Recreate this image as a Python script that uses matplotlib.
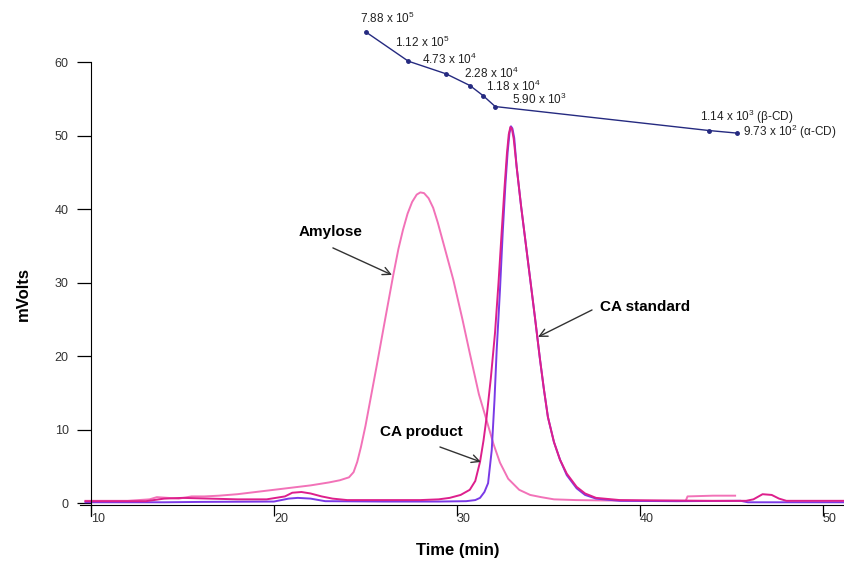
import matplotlib
matplotlib.use('Agg')
import matplotlib.pyplot as plt

plt.rcParams['font.family'] = ['Liberation Sans', 'DejaVu Sans']
plt.rcParams['mathtext.fontset'] = 'custom'
plt.rcParams['mathtext.rm'] = 'Liberation Sans'

# amylose trace (time in min, signal in mV)
amy_t = [9.7, 12.0, 13.2, 13.6, 14.2, 14.8, 15.5, 16.2, 17.0, 18.0, 19.0, 20.0, 21.0, 22.0, 23.0,
         23.6, 24.1, 24.35, 24.55, 24.75, 25.0, 25.3, 25.6, 26.0, 26.5, 26.8, 27.05, 27.3,
         27.55, 27.8, 28.0, 28.2, 28.45, 28.7, 28.95, 29.3, 29.8, 30.3, 30.7, 31.2, 31.65,
         32.0, 32.35, 32.8, 33.4, 34.0, 34.6, 35.3, 36.5, 38.0, 40.0, 42.5, 42.6, 44.0, 45.2]
amy_v = [0.3, 0.3, 0.5, 0.8, 0.7, 0.6, 0.9, 0.9, 1.0, 1.2, 1.5, 1.8, 2.1, 2.4, 2.8,
         3.1, 3.5, 4.2, 5.6, 7.6, 10.5, 14.5, 18.5, 24.0, 30.8, 34.6, 37.2, 39.4,
         41.0, 42.0, 42.3, 42.2, 41.5, 40.2, 38.2, 35.0, 30.4, 25.0, 20.4, 14.8, 11.0,
         8.0, 5.5, 3.3, 1.8, 1.1, 0.8, 0.5, 0.4, 0.35, 0.3, 0.3, 0.9, 1.0, 1.0]

# CA product trace
prod_t = [9.7, 13.0, 14.0, 15.0, 16.5, 18.0, 19.6, 20.6, 21.0, 21.5, 22.0, 22.6, 23.2, 24.0,
          26.0, 28.0, 29.0, 29.6, 30.2, 30.7, 31.0, 31.26, 31.45, 31.62, 31.85, 32.08, 32.27,
          32.44, 32.6, 32.73, 32.83, 32.92, 33.0, 33.1, 33.26, 33.5, 33.8, 34.05, 34.26, 34.54,
          34.75, 34.97, 35.3, 35.63, 36.0, 36.54, 37.0, 37.6, 38.9, 41.0, 44.0, 45.8, 46.2,
          46.7, 47.2, 47.6, 48.0, 51.2]
prod_v = [0.25, 0.25, 0.6, 0.7, 0.6, 0.5, 0.5, 0.9, 1.4, 1.5, 1.3, 0.9, 0.6, 0.4,
          0.4, 0.4, 0.5, 0.7, 1.1, 1.8, 3.0, 5.6, 8.5, 11.7, 17.0, 23.2, 30.0,
          36.8, 43.0, 47.6, 50.2, 51.2, 51.0, 49.6, 45.8, 40.5, 34.5, 29.5, 25.3, 19.5,
          15.5, 11.7, 8.3, 5.9, 4.0, 2.2, 1.3, 0.7, 0.4, 0.35, 0.3, 0.3, 0.5,
          1.2, 1.1, 0.6, 0.3, 0.3]

# CA standard trace
std_t = [9.7, 14.0, 16.0, 20.0, 20.8, 21.3, 22.0, 22.8, 26.0, 29.0, 30.5, 31.0, 31.26, 31.5,
         31.7, 31.9, 32.05, 32.17, 32.35, 32.5, 32.65, 32.77, 32.87, 32.95, 33.03, 33.13,
         33.26, 33.5, 33.8, 34.05, 34.26, 34.54, 34.75, 34.97, 35.3, 35.63, 36.0, 36.54, 37.0,
         37.6, 38.9, 42.0, 45.5, 45.9, 51.2]
std_v = [0.1, 0.1, 0.15, 0.2, 0.6, 0.7, 0.6, 0.25, 0.2, 0.2, 0.25, 0.4, 0.7, 1.5,
         2.7, 7.2, 14.0, 20.8, 29.0, 36.8, 43.5, 47.8, 50.4, 51.3, 51.0, 49.7,
         45.8, 40.5, 34.5, 29.5, 25.3, 19.5, 15.5, 11.7, 8.3, 5.9, 3.8, 2.0, 1.1,
         0.6, 0.3, 0.25, 0.3, 0.1, 0.1]

# molecular weight calibration curve, drawn on the same axes
cal_t = [25.03, 27.34, 29.40, 30.71, 31.44, 32.09, 43.79, 45.32]
cal_v = [64.13, 60.17, 58.45, 56.85, 55.45, 53.99, 50.72, 50.37]
cal_labels = [r'7.88 x 10$^{\mathregular{5}}$', r'1.12 x 10$^{\mathregular{5}}$',
              r'4.73 x 10$^{\mathregular{4}}$', r'2.28 x 10$^{\mathregular{4}}$',
              r'1.18 x 10$^{\mathregular{4}}$', r'5.90 x 10$^{\mathregular{3}}$',
              r'1.14 x 10$^{\mathregular{3}}$ (β-CD)', r'9.73 x 10$^{\mathregular{2}}$ (α-CD)']
cal_offsets = [(-6, 14), (-13, 19), (-24, 14), (-6, 12), (3, 9), (17, 7), (-9, 14), (6, 1)]

fig = plt.figure(figsize=(8.44, 5.61), dpi=100)
ax = fig.add_axes([80 / 844, 56 / 561, 764 / 844, 505 / 561])

ax.plot(amy_t, amy_v, color='#f272b8', lw=1.4)
ax.plot(std_t, std_v, color='#7a3ae6', lw=1.4)
ax.plot(prod_t, prod_v, color='#dd1f8c', lw=1.4)

ax.plot(cal_t, cal_v, color='#252a80', lw=1.0, marker='o', ms=2.5)
for t, v, lab, off in zip(cal_t, cal_v, cal_labels, cal_offsets):
    ax.annotate(lab, (t, v), xytext=off, textcoords='offset pixels',
                ha='left', va='center', fontsize=8.5, color='#222222')

# peak labels with arrows
arrow = dict(arrowstyle='->', color='#333333', lw=1.0, shrinkA=0, shrinkB=0,
             mutation_scale=14)
ax.text(23.11, 36.92, 'Amylose', fontsize=11, fontweight='bold', ha='center', va='center')
ax.annotate('', xy=(26.45, 31.06), xytext=(23.22, 34.74), arrowprops=arrow)
ax.text(40.27, 26.70, 'CA standard', fontsize=11, fontweight='bold', ha='center', va='center')
ax.annotate('', xy=(34.43, 22.62), xytext=(37.38, 26.29), arrowprops=arrow)
ax.text(28.03, 9.67, 'CA product', fontsize=11, fontweight='bold', ha='center', va='center')
ax.annotate('', xy=(31.31, 5.59), xytext=(29.07, 7.63), arrowprops=arrow)

ax.set_xlim(9.4, 51.15)
ax.set_ylim(-0.27, 68.5)
ax.spines['top'].set_visible(False)
ax.spines['right'].set_visible(False)
ax.spines['left'].set_position(('data', 10))
ax.spines['left'].set_bounds(-1.8, 60)
ax.set_xticks([10, 20, 30, 40, 50])
ax.set_yticks([0, 10, 20, 30, 40, 50, 60])
ax.tick_params(axis='y', length=10, width=0.9, pad=6, labelsize=9, labelcolor='#333333')
ax.tick_params(axis='x', length=8, width=0.9, pad=-2, labelsize=9, labelcolor='#333333')
for lab in ax.get_xticklabels():
    lab.set_horizontalalignment('left')

fig.text(458 / 844, 1 - 551 / 561, 'Time (min)', fontsize=12, fontweight='bold',
         ha='center', va='center')
fig.text(23 / 844, 1 - 294 / 561, 'mVolts', fontsize=12, fontweight='bold',
         ha='center', va='center', rotation=90)

fig.savefig('out.png', dpi=100)
